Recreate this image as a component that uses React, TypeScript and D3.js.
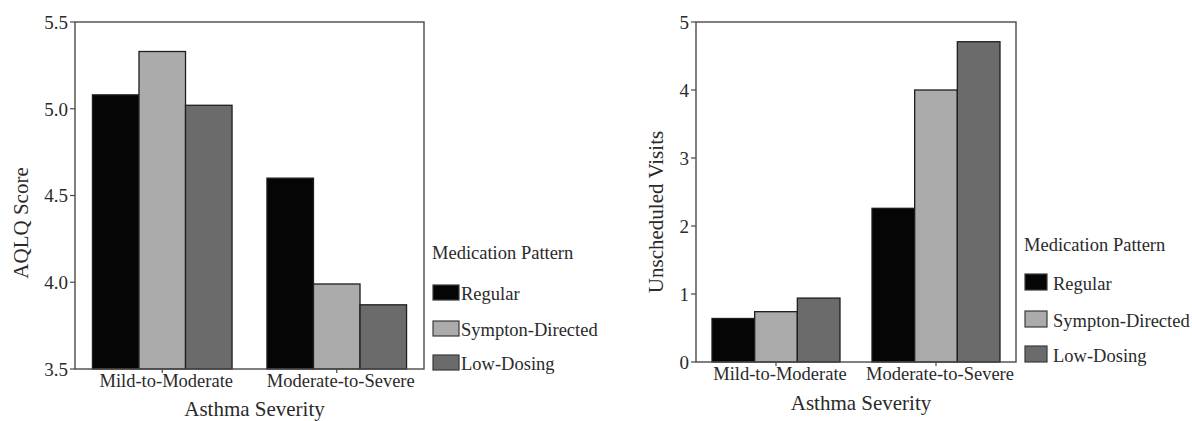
import React from "react";
import * as d3 from "d3";

const categories = ["Mild-to-Moderate", "Moderate-to-Severe"];
const seriesNames = ["Regular", "Sympton-Directed", "Low-Dosing"];
const seriesColors = ["#050505", "#ababab", "#6b6b6b"];
const aqlqRegular = [5.08, 4.6];
const aqlqSymptom = [5.33, 3.99];
const aqlqLowDosing = [5.02, 3.87];
const visitsRegular = [0.64, 2.26];
const visitsSymptom = [0.74, 4.0];
const visitsLowDosing = [0.94, 4.71];
const aqlqTicks = [3.5, 4.0, 4.5, 5.0, 5.5];
const visitsTicks = [0, 1, 2, 3, 4, 5];

const FONT = "'Liberation Serif', 'Times New Roman', serif";
const TEXT = "#2a2a2a";

type PanelProps = {
  left: number; right: number; top: number; bottom: number;
  domain: [number, number]; ticks: number[]; fmt: (v: number) => string;
  series: number[][]; yTitle: string; yTitleX: number; yTitleY: number;
  xTitleY: number; legend: { x: number; titleY: number; sw: number; sh: number; rows: number[]; labelX: number };
};

function Panel(p: PanelProps) {
  const x0 = d3.scaleBand<string>().domain(categories).range([p.left, p.right]).paddingInner(0.2).paddingOuter(0.1);
  const x1 = d3.scaleBand<string>().domain(seriesNames).range([0, x0.bandwidth()]);
  const y = d3.scaleLinear().domain(p.domain).range([p.bottom, p.top]);
  const cx = (p.left + p.right) / 2;
  return (
    <g fontFamily={FONT} fill={TEXT}>
      {categories.map((c, ci) =>
        seriesNames.map((s, si) => {
          const v = p.series[si][ci];
          return (
            <rect key={c + s} x={(x0(c) as number) + (x1(s) as number)} y={y(v)} width={x1.bandwidth()}
              height={y(p.domain[0]) - y(v)} fill={seriesColors[si]} stroke="#1e1e1e" strokeWidth={1.3} />
          );
        })
      )}
      <rect x={p.left} y={p.top} width={p.right - p.left} height={p.bottom - p.top} fill="none" stroke="#4a4a4a" strokeWidth={1.4} />
      {p.ticks.map((t) => (
        <g key={t}>
          <line x1={p.left - 5} x2={p.left} y1={y(t)} y2={y(t)} stroke="#4a4a4a" strokeWidth={1.2} />
          <text x={p.left - 7} y={y(t)} dy="0.36em" textAnchor="end" fontSize={19}>{p.fmt(t)}</text>
        </g>
      ))}
      {categories.map((c) => {
        const mx = (x0(c) as number) + x0.bandwidth() / 2;
        return (
          <g key={c}>
            <line x1={mx} x2={mx} y1={p.bottom} y2={p.bottom + 4} stroke="#4a4a4a" strokeWidth={1.2} />
            <text x={mx + 4} y={p.bottom + 18} textAnchor="middle" fontSize={18.5}>{c}</text>
          </g>
        );
      })}
      <text x={cx + 5} y={p.xTitleY} textAnchor="middle" fontSize={21}>Asthma Severity</text>
      <text transform={`translate(${p.yTitleX},${p.yTitleY}) rotate(-90)`} textAnchor="middle" fontSize={21}>{p.yTitle}</text>
      <text x={p.legend.x} y={p.legend.titleY} fontSize={18.5}>Medication Pattern</text>
      {seriesNames.map((s, si) => (
        <g key={s}>
          <rect x={p.legend.x + 1} y={p.legend.rows[si] - p.legend.sh} width={p.legend.sw} height={p.legend.sh}
            fill={seriesColors[si]} stroke="#3a3a3a" strokeWidth={1.2} />
          <text x={p.legend.labelX} y={p.legend.rows[si]} fontSize={18.5}>{s}</text>
        </g>
      ))}
    </g>
  );
}

export default function App() {
  const fmt1 = d3.format(".1f");
  const fmt0 = d3.format("d");
  return (
    <svg width={1192} height={421} style={{ position: "absolute", left: 0, top: 0, background: "#fff" }}>
      <rect x={0} y={0} width={1192} height={421} fill="#fff" />
      <Panel left={75} right={424} top={22} bottom={369} domain={[3.5, 5.5]} ticks={aqlqTicks} fmt={fmt1}
        series={[aqlqRegular, aqlqSymptom, aqlqLowDosing]} yTitle="AQLQ Score" yTitleX={28} yTitleY={223} xTitleY={416}
        legend={{ x: 432, titleY: 259, sw: 26, sh: 15, rows: [300, 336, 370], labelX: 461 }} />
      <Panel left={696} right={1016} top={22} bottom={362} domain={[0, 5]} ticks={visitsTicks} fmt={fmt0}
        series={[visitsRegular, visitsSymptom, visitsLowDosing]} yTitle="Unscheduled Visits" yTitleX={663} yTitleY={212} xTitleY={410}
        legend={{ x: 1024, titleY: 251, sw: 22, sh: 16, rows: [290, 327, 362], labelX: 1053 }} />
    </svg>
  );
}
